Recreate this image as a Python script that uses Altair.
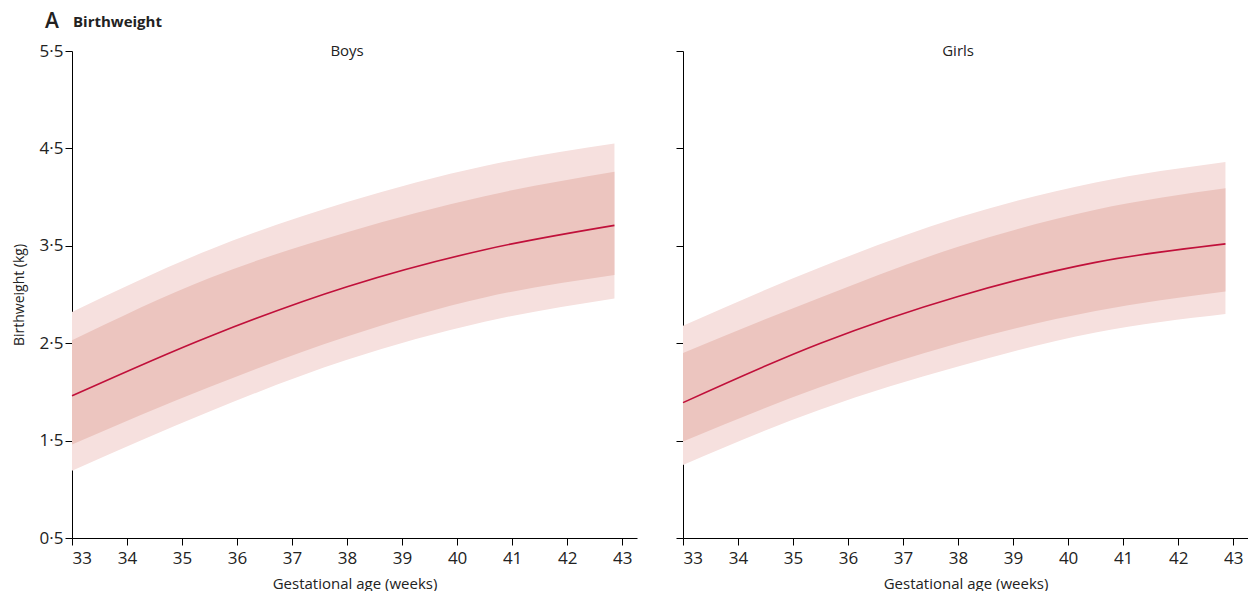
import altair as alt
import pandas as pd

weeks = [33, 35.5, 38, 40.5, 42.86]

boys_outer_lo = [1.19, 1.80, 2.33, 2.72, 2.96]
boys_inner_lo = [1.46, 2.05, 2.57, 2.97, 3.20]
boys_median = [1.96, 2.57, 3.08, 3.46, 3.71]
boys_inner_hi = [2.53, 3.17, 3.64, 4.01, 4.26]
boys_outer_hi = [2.82, 3.46, 3.95, 4.32, 4.55]

girls_outer_lo = [1.25, 1.82, 2.26, 2.61, 2.80]
girls_inner_lo = [1.49, 2.05, 2.50, 2.83, 3.03]
girls_median = [1.89, 2.50, 2.98, 3.33, 3.52]
girls_inner_hi = [2.40, 2.97, 3.49, 3.87, 4.09]
girls_outer_hi = [2.68, 3.28, 3.79, 4.15, 4.36]

x_ticks = list(range(33, 44))
y_ticks = [0.5, 1.5, 2.5, 3.5, 4.5, 5.5]

FONT = "Open Sans"
OUTER = "#f6e0de"
INNER = "#ecc5bf"
LINE = "#c0103a"

W, H = 565, 487


def panel(name, olo, ilo, med, ihi, ohi, first):
    df = pd.DataFrame({"week": weeks, "olo": olo, "ilo": ilo, "med": med,
                       "ihi": ihi, "ohi": ohi})
    xs = alt.Scale(domain=[33, 43.27], nice=False, zero=False)
    ys = alt.Scale(domain=[0.5, 5.5], nice=False, zero=False)
    xax = alt.Axis(values=x_ticks, format="d", title="Gestational age (weeks)",
                   grid=False, tickSize=7, labelFontSize=17, titleFontSize=15,
                   titleFontWeight="normal", labelPadding=5, titlePadding=10)
    if first:
        yax = alt.Axis(values=y_ticks, title="Birthweight (kg)", grid=False,
                       tickSize=7, labelFontSize=17, titleFontSize=14,
                       titleFontWeight="normal", titlePadding=13, labelPadding=2,
                       labelExpr="replace(format(datum.value, '.1f'), '.', '·')")
    else:
        yax = alt.Axis(values=y_ticks, title=None, grid=False, tickSize=7,
                       labels=False)
    base = alt.Chart(df)
    outer = base.mark_area(color=OUTER, interpolate="monotone").encode(
        x=alt.X("week:Q", scale=xs, axis=xax),
        y=alt.Y("olo:Q", scale=ys, axis=yax),
        y2="ohi:Q")
    inner = base.mark_area(color=INNER, interpolate="monotone").encode(
        x="week:Q", y="ilo:Q", y2="ihi:Q")
    line = base.mark_line(color=LINE, strokeWidth=1.6, interpolate="monotone").encode(
        x="week:Q", y="med:Q")
    lab = alt.Chart(pd.DataFrame({"t": [name], "x": [38.0], "y": [5.5]})).mark_text(
        font=FONT, fontSize=15, baseline="middle", color="#222").encode(
        x="x:Q", y="y:Q", text="t:N")
    layers = [outer, inner, line, lab]
    if first:
        a = alt.Chart(pd.DataFrame({"t": ["A"]})).mark_text(
            font=FONT, fontSize=21, fontWeight=600, align="left",
            baseline="middle", color="#222").encode(
            x=alt.value(-27), y=alt.value(-29), text="t:N")
        b = alt.Chart(pd.DataFrame({"t": ["Birthweight"]})).mark_text(
            font=FONT, fontSize=15, fontWeight="bold", align="left",
            baseline="middle", color="#222").encode(
            x=alt.value(1), y=alt.value(-29), text="t:N")
        layers += [a, b]
    return alt.layer(*layers).properties(width=W, height=H)


left = panel("Boys", boys_outer_lo, boys_inner_lo, boys_median, boys_inner_hi,
             boys_outer_hi, True)
right = panel("Girls", girls_outer_lo, girls_inner_lo, girls_median,
              girls_inner_hi, girls_outer_hi, False)

chart = (alt.hconcat(left, right, spacing=38)
         .properties(padding={"left": 4, "top": 3, "right": 0, "bottom": 0})
         .configure(font=FONT)
         .configure_view(stroke=None)
         .configure_axis(domainColor="black", tickColor="black",
                         labelColor="#222", titleColor="#222",
                         labelFont=FONT, titleFont=FONT))

chart.save("out.html", embed_options={"renderer": "svg", "actions": False})
